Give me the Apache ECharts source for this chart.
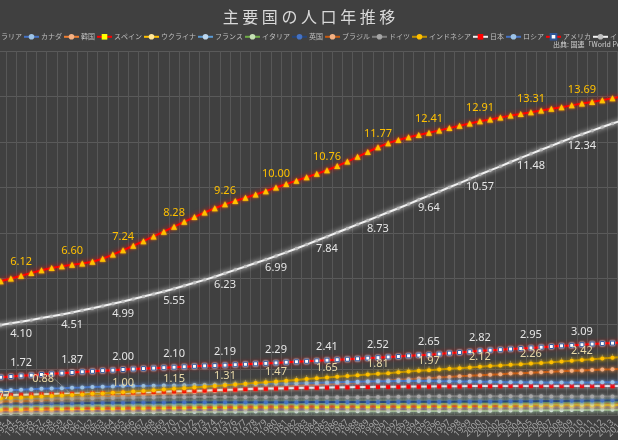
<!DOCTYPE html>
<html><head><meta charset="utf-8">
<script src="https://cdn.jsdelivr.net/npm/echarts@6/dist/echarts.min.js"></script>
<style>html,body{margin:0;padding:0;background:#404040}#c{width:618px;height:440px}</style>
</head><body><div id="c"></div>
<script>
const years = ['1950','1951','1952','1953','1954','1955','1956','1957','1958','1959',
'1960','1961','1962','1963','1964','1965','1966','1967','1968','1969',
'1970','1971','1972','1973','1974','1975','1976','1977','1978','1979',
'1980','1981','1982','1983','1984','1985','1986','1987','1988','1989',
'1990','1991','1992','1993','1994','1995','1996','1997','1998','1999',
'2000','2001','2002','2003','2004','2005','2006','2007','2008','2009',
'2010','2011','2012','2013','2014','2015','2016','2017','2018','2019','2020'];

const countryNames = ['オーストラリア','カナダ','韓国','スペイン','ウクライナ','フランス','イタリア','英国','ブラジル','ドイツ','インドネシア','日本','ロシア','アメリカ','インド','中国'];

const australia = [0.08,0.08,0.09,0.09,0.09, 0.09,0.10,0.10,0.10,0.10, 0.10,0.11,0.11,0.11,0.11, 0.11,0.12,0.12,0.12,0.13, 0.13,0.13,0.13,0.14,0.14, 0.14,0.14,0.14,0.15,0.15, 0.15,0.15,0.15,0.16,0.16, 0.16,0.16,0.16,0.17,0.17, 0.17,0.17,0.18,0.18,0.18, 0.18,0.18,0.19,0.19,0.19, 0.19,0.19,0.20,0.20,0.20, 0.20,0.21,0.21,0.21,0.22, 0.22,0.23,0.23,0.23,0.24, 0.24,0.24,0.25,0.25,0.25, 0.26];
const canada = [0.14,0.14,0.14,0.15,0.15, 0.16,0.16,0.17,0.17,0.17, 0.18,0.18,0.19,0.19,0.19, 0.20,0.20,0.20,0.21,0.21, 0.21,0.22,0.22,0.22,0.23, 0.23,0.23,0.24,0.24,0.24, 0.25,0.25,0.25,0.25,0.26, 0.26,0.26,0.27,0.27,0.27, 0.28,0.28,0.28,0.29,0.29, 0.29,0.30,0.30,0.30,0.30, 0.31,0.31,0.31,0.32,0.32, 0.32,0.33,0.33,0.33,0.34, 0.34,0.34,0.35,0.35,0.36, 0.36,0.36,0.37,0.37,0.37, 0.38];
const korea = [0.19,0.20,0.20,0.21,0.21, 0.22,0.23,0.23,0.24,0.25, 0.25,0.26,0.27,0.27,0.28, 0.29,0.29,0.30,0.31,0.31, 0.32,0.33,0.34,0.34,0.35, 0.36,0.36,0.37,0.37,0.38, 0.38,0.39,0.39,0.40,0.40, 0.41,0.41,0.42,0.42,0.42, 0.43,0.43,0.44,0.44,0.45, 0.45,0.46,0.46,0.47,0.47, 0.47,0.48,0.48,0.48,0.48, 0.49,0.49,0.49,0.49,0.49, 0.50,0.50,0.50,0.50,0.51, 0.51,0.51,0.51,0.51,0.51, 0.51];
const spain = [0.28,0.28,0.29,0.29,0.29, 0.29,0.30,0.30,0.30,0.30, 0.31,0.31,0.31,0.32,0.32, 0.32,0.33,0.33,0.33,0.34, 0.34,0.34,0.35,0.35,0.35, 0.36,0.36,0.37,0.37,0.37, 0.38,0.38,0.38,0.38,0.38, 0.39,0.39,0.39,0.39,0.39, 0.39,0.39,0.39,0.39,0.39, 0.40,0.40,0.40,0.40,0.40, 0.41,0.41,0.42,0.42,0.43, 0.44,0.45,0.45,0.46,0.46, 0.47,0.47,0.47,0.47,0.47, 0.47,0.47,0.47,0.47,0.47, 0.47];
const ukraine = [0.37,0.38,0.38,0.39,0.39, 0.39,0.40,0.41,0.41,0.42, 0.43,0.43,0.44,0.44,0.45, 0.45,0.46,0.46,0.46,0.47, 0.47,0.48,0.48,0.48,0.49, 0.49,0.49,0.49,0.50,0.50, 0.50,0.50,0.50,0.51,0.51, 0.51,0.51,0.51,0.51,0.52, 0.52,0.52,0.52,0.52,0.52, 0.51,0.51,0.50,0.50,0.49, 0.49,0.48,0.48,0.47,0.47, 0.47,0.46,0.46,0.46,0.46, 0.46,0.46,0.45,0.45,0.45, 0.45,0.45,0.44,0.44,0.44, 0.44];
const france = [0.42,0.42,0.43,0.43,0.43, 0.43,0.44,0.44,0.45,0.45, 0.46,0.46,0.47,0.48,0.48, 0.49,0.49,0.50,0.50,0.50, 0.51,0.51,0.52,0.52,0.52, 0.53,0.53,0.53,0.54,0.54, 0.54,0.54,0.55,0.55,0.55, 0.55,0.56,0.56,0.56,0.56, 0.57,0.57,0.57,0.58,0.58, 0.58,0.58,0.58,0.59,0.59, 0.59,0.59,0.60,0.60,0.61, 0.61,0.61,0.62,0.62,0.63, 0.63,0.63,0.64,0.64,0.64, 0.65,0.65,0.65,0.65,0.65, 0.65];
const italy = [0.47,0.47,0.47,0.48,0.48, 0.48,0.48,0.49,0.49,0.49, 0.50,0.50,0.51,0.51,0.51, 0.52,0.52,0.53,0.53,0.53, 0.54,0.54,0.54,0.55,0.55, 0.55,0.56,0.56,0.56,0.56, 0.56,0.56,0.57,0.57,0.57, 0.57,0.57,0.57,0.57,0.57, 0.57,0.57,0.57,0.57,0.57, 0.57,0.57,0.57,0.57,0.57, 0.57,0.57,0.57,0.57,0.58, 0.58,0.58,0.58,0.59,0.59, 0.59,0.60,0.60,0.60,0.61, 0.61,0.61,0.61,0.61,0.61, 0.60];
const uk = [0.51,0.51,0.51,0.51,0.51, 0.51,0.51,0.52,0.52,0.52, 0.52,0.53,0.53,0.54,0.54, 0.54,0.55,0.55,0.55,0.55, 0.56,0.56,0.56,0.56,0.56, 0.56,0.56,0.56,0.56,0.56, 0.56,0.56,0.56,0.57,0.57, 0.57,0.57,0.57,0.57,0.57, 0.57,0.57,0.58,0.58,0.58, 0.58,0.58,0.58,0.59,0.59, 0.59,0.59,0.59,0.60,0.60, 0.60,0.61,0.61,0.62,0.63, 0.63,0.64,0.64,0.65,0.65, 0.66,0.66,0.67,0.67,0.68, 0.68];
const brazil = [0.54,0.56,0.57,0.59,0.61, 0.62,0.64,0.66,0.68,0.70, 0.72,0.74,0.76,0.79,0.81, 0.83,0.86,0.88,0.91,0.93, 0.95,0.98,1.00,1.03,1.05, 1.08,1.10,1.13,1.16,1.18, 1.21,1.24,1.27,1.30,1.32, 1.35,1.38,1.41,1.44,1.47, 1.49,1.52,1.55,1.57,1.60, 1.62,1.65,1.67,1.70,1.72, 1.75,1.77,1.79,1.82,1.84, 1.86,1.88,1.90,1.92,1.94, 1.96,1.98,2.00,2.01,2.03, 2.05,2.06,2.08,2.09,2.11, 2.13];
const germany = [0.70,0.70,0.70,0.71,0.71, 0.71,0.72,0.72,0.72,0.73, 0.73,0.74,0.74,0.75,0.75, 0.76,0.76,0.77,0.77,0.78, 0.78,0.78,0.79,0.79,0.79, 0.79,0.78,0.78,0.78,0.78, 0.78,0.78,0.78,0.78,0.78, 0.78,0.78,0.78,0.78,0.79, 0.79,0.80,0.80,0.81,0.81, 0.82,0.82,0.82,0.82,0.81, 0.81,0.82,0.82,0.82,0.82, 0.82,0.82,0.81,0.81,0.81, 0.81,0.81,0.81,0.81,0.81, 0.82,0.82,0.83,0.83,0.84, 0.84];
const indonesia = [0.70,0.71,0.73,0.74,0.76, 0.77,0.79,0.81,0.83,0.86, 0.88,0.90,0.93,0.95,0.98, 1.00,1.03,1.06,1.09,1.12, 1.15,1.18,1.21,1.24,1.28, 1.31,1.34,1.37,1.41,1.44, 1.47,1.51,1.54,1.58,1.61, 1.65,1.68,1.71,1.75,1.78, 1.81,1.84,1.88,1.91,1.94, 1.97,2.00,2.03,2.06,2.09, 2.12,2.15,2.18,2.21,2.23, 2.26,2.29,2.32,2.35,2.38, 2.42,2.45,2.48,2.52,2.55, 2.58,2.61,2.64,2.67,2.71, 2.74];
const japan = [0.83,0.84,0.86,0.87,0.88, 0.89,0.90,0.91,0.92,0.93, 0.93,0.94,0.95,0.96,0.97, 0.98,0.99,1.00,1.01,1.03, 1.04,1.05,1.07,1.08,1.10, 1.11,1.12,1.14,1.15,1.16, 1.17,1.18,1.19,1.20,1.20, 1.21,1.22,1.22,1.23,1.23, 1.24,1.24,1.24,1.25,1.25, 1.25,1.26,1.26,1.26,1.27, 1.27,1.27,1.27,1.28,1.28, 1.28,1.28,1.28,1.28,1.28, 1.28,1.28,1.28,1.27,1.27, 1.27,1.27,1.27,1.27,1.27, 1.26];
const russia = [1.03,1.05,1.06,1.08,1.10, 1.11,1.13,1.15,1.17,1.18, 1.20,1.21,1.23,1.24,1.25, 1.27,1.27,1.28,1.29,1.30, 1.30,1.31,1.32,1.32,1.33, 1.34,1.35,1.36,1.36,1.37, 1.38,1.39,1.40,1.41,1.42, 1.43,1.44,1.45,1.46,1.47, 1.48,1.48,1.49,1.49,1.49, 1.49,1.48,1.48,1.47,1.47, 1.46,1.46,1.45,1.44,1.44, 1.44,1.43,1.43,1.43,1.43, 1.43,1.43,1.44,1.44,1.44, 1.45,1.45,1.46,1.46,1.46, 1.46];
const usa = [1.59,1.61,1.64,1.66,1.69, 1.72,1.75,1.78,1.81,1.84, 1.87,1.90,1.92,1.95,1.97, 2.00,2.02,2.04,2.06,2.08, 2.10,2.12,2.14,2.16,2.17, 2.19,2.21,2.23,2.25,2.27, 2.29,2.32,2.34,2.36,2.38, 2.41,2.43,2.45,2.47,2.50, 2.52,2.55,2.57,2.60,2.63, 2.65,2.68,2.72,2.75,2.78, 2.82,2.85,2.87,2.90,2.92, 2.95,2.98,3.01,3.04,3.06, 3.09,3.12,3.14,3.16,3.19, 3.21,3.23,3.25,3.27,3.29, 3.31];
const india = [3.76,3.83,3.89,3.96,4.03, 4.10,4.18,4.26,4.34,4.42, 4.51,4.60,4.69,4.79,4.89, 4.99,5.10,5.21,5.32,5.43, 5.55,5.68,5.81,5.94,6.08, 6.23,6.38,6.53,6.68,6.83, 6.99,7.15,7.32,7.49,7.67, 7.84,8.02,8.20,8.38,8.55, 8.73,8.91,9.09,9.27,9.46, 9.64,9.82,10.01,10.19,10.38, 10.57,10.75,10.93,11.12,11.30, 11.48,11.66,11.83,12.01,12.18, 12.34,12.50,12.66,12.81,12.96, 13.10,13.24,13.39,13.53,13.66, 13.80];
const china = [5.54,5.65,5.76,5.88,6.00, 6.12,6.24,6.36,6.46,6.54, 6.60,6.66,6.74,6.87,7.05, 7.24,7.44,7.64,7.85,8.06, 8.28,8.49,8.70,8.90,9.09, 9.26,9.41,9.55,9.69,9.84, 10.00,10.15,10.30,10.45,10.60, 10.76,10.94,11.14,11.35,11.56, 11.77,11.95,12.09,12.21,12.31, 12.41,12.51,12.61,12.71,12.81, 12.91,12.99,13.08,13.16,13.23, 13.31,13.38,13.46,13.53,13.61, 13.69,13.76,13.84,13.92,14.00, 14.07,14.14,14.21,14.28,14.34, 14.39];

const seriesValues = [australia,canada,korea,spain,ukraine,france,italy,uk,brazil,germany,indonesia,japan,russia,usa,india,china];

// styles (not data)
const styles = [
  {line:'#A9D18E', fill:'#E2F0D9', sym:'circle', size:4, glow:5},
  {line:'#4472C4', fill:'#9DC3E6', sym:'circle', size:4, glow:3},
  {line:'#ED7D31', fill:'#F4B183', sym:'circle', size:4, glow:3},
  {line:'#FF0000', fill:'#FFFF00', sym:'rect', size:4, glow:4},
  {line:'#FFC000', fill:'#FFE699', sym:'circle', size:4, glow:4},
  {line:'#5B9BD5', fill:'#BDD7EE', sym:'circle', size:4, glow:3},
  {line:'#70AD47', fill:'#C5E0B4', sym:'circle', size:4, glow:5},
  {line:'#264478', fill:'#4472C4', sym:'circle', size:4, glow:3},
  {line:'#C55A11', fill:'#F4B183', sym:'circle', size:4, glow:3},
  {line:'#7F7F7F', fill:'#A5A5A5', sym:'circle', size:4, glow:3},
  {line:'#BF9000', fill:'#FFC000', sym:'circle', size:4, glow:3},
  {line:'#F2F2F2', fill:'#FF0000', sym:'rect', size:4, glow:2},
  {line:'#4472C4', fill:'#9DC3E6', sym:'circle', size:4, glow:3},
  {line:'#FF0000', fill:'#FFFFFF', sym:'rect', size:4, border:'#2F5597', glow:2},
  {line:'#F2F2F2', fill:'#BFBFBF', sym:'circle', size:3, glow:2},
  {line:'#FF0000', fill:'#FFC000', sym:'triangle', size:6, glow:2}
];
const labelCfg = {
  10: {color:'#E8D9A8', position:'top', distance:2},
  13: {color:'#E6E6E6', position:'top', distance:5},
  14: {color:'#E6E6E6', position:'bottom', distance:5},
  15: {color:'#FFC000', position:'top', distance:5}
};
const labelMoves = {10: {5:[-22,8], 10:[-29,-7]}};

const series = countryNames.map((name, i) => {
  const st = styles[i];
  const lc = labelCfg[i];
  const s = {
    name, type:'line', data: seriesValues[i],
    symbol: st.sym, symbolSize: st.size, showSymbol: true,
    lineStyle: {color: st.line, width: 2, shadowBlur: 5, shadowColor: st.line},
    itemStyle: {color: st.fill, borderColor: st.border || st.fill, borderWidth: st.border ? 1 : 0, shadowBlur: st.glow, shadowColor: st.fill},
    emphasis: {disabled: true},
    animation: false,
    z: 2 + i
  };
  if (lc) {
    s.label = {
      show: true, position: lc.position, color: lc.color, fontSize: 11,
      fontFamily: 'Noto Sans', distance: lc.distance,
      formatter: p => (Number(years[p.dataIndex]) % 5 === 0) ? p.value.toFixed(2) : ''
    };
    const mv = labelMoves[i];
    if (mv) {
      s.labelLayout = p => mv[p.dataIndex] ? {dx: mv[p.dataIndex][0], dy: mv[p.dataIndex][1]} : {};
      s.labelLine = {show: true, lineStyle: {color: '#9a9a9a', width: 0.6}};
    }
  }
  return s;
});
// Indonesia's labels sit above the US line, as in the reference
series[10].z = 30;

const chart = echarts.init(document.getElementById('c'), null, {renderer:'canvas'});
chart.setOption({
  backgroundColor: '#404040',
  animation: false,
  title: {
    text: '主 要 国 の 人 口 年 推 移', left: 'center', top: 4,
    textStyle: {color: '#D9D9D9', fontSize: 16, fontWeight: 'normal', fontFamily: 'Noto Sans CJK JP'}
  },
  legend: {
    data: countryNames, left: -50, top: 28, width: 1200, itemWidth: 15, itemHeight: 7, itemGap: 1,
    textStyle: {color: '#BFBFBF', fontSize: 7, fontFamily: 'Noto Sans CJK JP', padding: [0,0,0,-3]}
  },
  graphic: [{
    type: 'text', left: 553, top: 41,
    style: {text: '出典: 国連「World Population Prospects 2019」', fill: '#D0D0D0', fontSize: 7, fontFamily: 'Noto Sans CJK JP'}
  }],
  grid: {left: -35, right: -71, top: 51, bottom: 25, containLabel: false, outerBoundsMode: 'none'},
  xAxis: {
    type: 'category', data: years, boundaryGap: true,
    axisLine: {show: true, lineStyle: {color: '#595959'}},
    axisTick: {show: false},
    axisLabel: {interval: 0, rotate: 45, color: '#A6A6A6', fontSize: 9, fontFamily: 'Noto Sans', margin: 6},
    splitLine: {show: true, interval: 0, lineStyle: {color: '#575757', width: 1}}
  },
  yAxis: {
    type: 'value', min: 0, max: 16, interval: 2,
    axisLabel: {show: false}, axisLine: {show: false}, axisTick: {show: false},
    splitLine: {lineStyle: {color: '#5A5A5A', width: 1}}
  },
  series
});
</script></body></html>
